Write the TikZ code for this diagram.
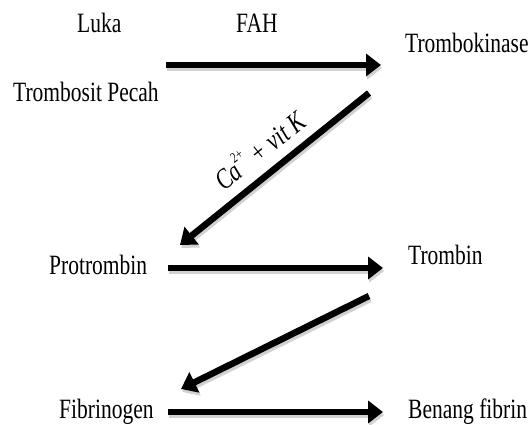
\documentclass[tikz,border=0pt]{standalone}
\usepackage{fontspec}
\setmainfont{Liberation Serif}
\usetikzlibrary{arrows.meta}
\newcommand{\vst}[1]{\scalebox{1}[1.3]{#1}}
\begin{document}
\begin{tikzpicture}[x=1pt,y=-1pt,
  lbl/.style={inner sep=0pt, anchor=base west, font=\fontsize{21.5}{24}\selectfont},
  flow/.style={line width=6.5pt, -{Triangle[width=22pt,length=15pt]}, draw=black},
  flowshadow/.style={line width=6.5pt, -{Triangle[width=22pt,length=15pt]}, draw=black!18, transform canvas={shift={(1.2pt,-3pt)}}},
  catlbl/.style={sloped, above=10pt, inner sep=0pt, font=\fontsize{22}{24}\selectfont\itshape}]
\useasboundingbox (0,0) rectangle (531,425);
\fill[white] (0,0) rectangle (531,425);
% labels
\node[lbl] (luka) at (77,33) {\vst{Luka}};
\node[lbl] (fah) at (236,33) {\vst{FAH}};
\node[lbl] (tkin) at (405,53) {\vst{Trombokinase}};
\node[lbl] (tpec) at (13,102) {\vst{Trombosit Pecah}};
\node[lbl] (prot) at (49,275) {\vst{Protrombin}};
\node[lbl] (trom) at (408,265) {\vst{Trombin}};
\node[lbl] (fibg) at (59,418) {\vst{Fibrinogen}};
\node[lbl] (bena) at (408,418) {\vst{Benang fibrin}};
% arrow ends
\coordinate (a1s) at (166,65); \coordinate (a1e) at (381,65);
\coordinate (d1s) at (369,93); \coordinate (d1e) at (180,245);
\coordinate (a2s) at (168,268); \coordinate (a2e) at (383,268);
\coordinate (d2s) at (369,296); \coordinate (d2e) at (181,389);
\coordinate (a3s) at (168,412); \coordinate (a3e) at (383,412);
% shadows
\draw[flowshadow] (a1s) -- (a1e);
\draw[flowshadow] (d1s) -- (d1e);
\draw[flowshadow] (a2s) -- (a2e);
\draw[flowshadow] (d2s) -- (d2e);
\draw[flowshadow] (a3s) -- (a3e);
% arrows
\draw[flow] (a1s) -- (a1e);
\draw[flow] (d1s) -- node[catlbl] (cavk) {\vst{Ca\raisebox{0.55em}{\fontsize{11}{11}\selectfont 2+} + vit K}} (d1e);
\draw[flow] (a2s) -- (a2e);
\draw[flow] (d2s) -- (d2e);
\draw[flow] (a3s) -- (a3e);
\end{tikzpicture}
\end{document}
